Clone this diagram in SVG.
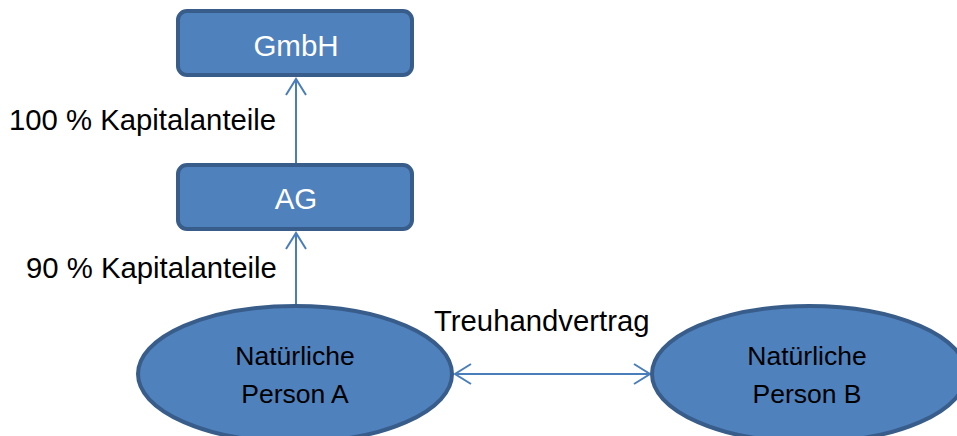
<svg xmlns="http://www.w3.org/2000/svg" width="957" height="436" viewBox="0 0 957 436">
<defs>
<style>
.box{fill:#4F81BD;stroke:#385D8A;stroke-width:4}
.w{fill:#FFFFFF;font-family:"Liberation Sans",Arial,sans-serif;font-size:29.5px;text-anchor:middle}
.b{fill:#000000;font-family:"Liberation Sans",Arial,sans-serif;font-size:26.5px;text-anchor:middle}
.lbl{fill:#000000;font-family:"Liberation Sans",Arial,sans-serif;font-size:29.3px}
.conn{stroke:#4A7EBB;stroke-width:2;fill:none}
</style>
<marker id="arr" viewBox="0 0 20 24" refX="18" refY="12" markerWidth="20" markerHeight="24" markerUnits="userSpaceOnUse" orient="auto-start-reverse">
<path d="M2,2 L18,12 L2,22" fill="none" stroke="#4A7EBB" stroke-width="2"/>
</marker>
</defs>
<rect width="957" height="436" fill="#FFFFFF"/>
<g id="connectors">
<line class="conn" x1="296" y1="163" x2="296" y2="79" marker-end="url(#arr)"/>
<line class="conn" x1="296" y1="305" x2="296" y2="233" marker-end="url(#arr)"/>
<line class="conn" x1="455" y1="374" x2="650" y2="374" marker-start="url(#arr)" marker-end="url(#arr)"/>
<text class="lbl" x="9" y="130">100 % Kapitalanteile</text>
<text class="lbl" x="26" y="278">90 % Kapitalanteile</text>
<text class="lbl" x="434" y="331">Treuhandvertrag</text>
</g>
<g id="gmbh">
<rect class="box" x="178" y="11" width="234" height="64" rx="9"/>
<text class="w" x="296" y="56">GmbH</text>
</g>
<g id="ag">
<rect class="box" x="178" y="165" width="234" height="64" rx="9"/>
<text class="w" x="296" y="209">AG</text>
</g>
<g id="personA">
<ellipse class="box" cx="295" cy="374" rx="157" ry="68"/>
<text class="b" x="295" y="365">Natürliche</text>
<text class="b" x="295" y="403">Person A</text>
</g>
<g id="personB">
<ellipse class="box" cx="809" cy="374" rx="157" ry="68"/>
<text class="b" x="807" y="365">Natürliche</text>
<text class="b" x="807" y="403">Person B</text>
</g>
</svg>
